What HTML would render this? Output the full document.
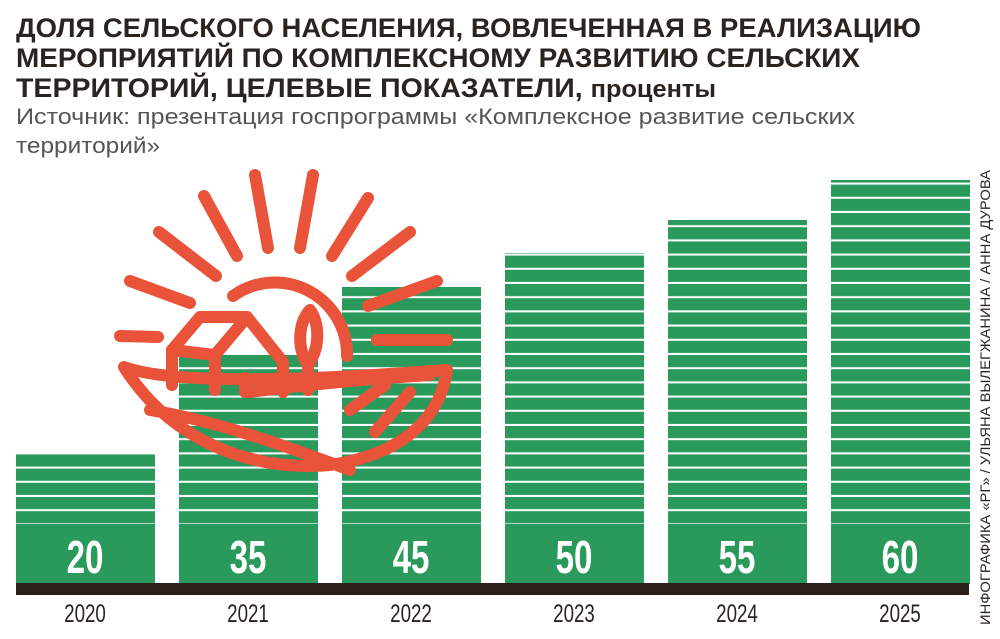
<!DOCTYPE html>
<html><head><meta charset="utf-8"><style>
html,body{margin:0;padding:0;background:#fff;}
svg{display:block;}
</style></head><body>
<svg width="1000" height="639" viewBox="0 0 1000 639" xmlns="http://www.w3.org/2000/svg">
<defs>
<pattern id="st" x="0" y="0" width="10" height="14.2" patternUnits="userSpaceOnUse">
<rect x="0" y="0" width="10" height="12.2" fill="#2a9a5c"/>
<rect x="0" y="12.2" width="10" height="2" fill="#fff"/>
</pattern>
</defs>
<g font-family="'Liberation Sans','Noto Sans CJK SC',sans-serif" fill="#2a2420" font-weight="bold" font-size="27">
<text x="16" y="37" textLength="905" lengthAdjust="spacingAndGlyphs">ДОЛЯ СЕЛЬСКОГО НАСЕЛЕНИЯ, ВОВЛЕЧЕННАЯ В РЕАЛИЗАЦИЮ</text>
<text x="16" y="67" textLength="844" lengthAdjust="spacingAndGlyphs">МЕРОПРИЯТИЙ ПО КОМПЛЕКСНОМУ РАЗВИТИЮ СЕЛЬСКИХ</text>
<text x="16" y="97" textLength="700" lengthAdjust="spacingAndGlyphs">ТЕРРИТОРИЙ, ЦЕЛЕВЫЕ ПОКАЗАТЕЛИ, <tspan font-size="24">проценты</tspan></text>
</g>
<g font-family="'Liberation Sans','Noto Sans CJK SC',sans-serif" fill="#555" font-size="22">
<text x="16" y="124" textLength="839" lengthAdjust="spacingAndGlyphs">Источник: презентация госпрограммы «Комплексное развитие сельских</text>
<text x="16" y="153" textLength="144" lengthAdjust="spacingAndGlyphs">территорий»</text>
</g>
<g>
<rect x="16" y="454" width="139" height="70" fill="url(#st)"/>
<rect x="179" y="353" width="139" height="171" fill="url(#st)"/>
<rect x="342" y="287" width="139" height="237" fill="url(#st)"/>
<rect x="505" y="253" width="139" height="271" fill="url(#st)"/>
<rect x="668" y="220" width="139" height="304" fill="url(#st)"/>
<rect x="831" y="180" width="139" height="344" fill="url(#st)"/>
<rect x="16" y="524" width="139" height="60" fill="#2a9a5c"/>
<rect x="179" y="524" width="139" height="60" fill="#2a9a5c"/>
<rect x="342" y="524" width="139" height="60" fill="#2a9a5c"/>
<rect x="505" y="524" width="139" height="60" fill="#2a9a5c"/>
<rect x="668" y="524" width="139" height="60" fill="#2a9a5c"/>
<rect x="831" y="524" width="139" height="60" fill="#2a9a5c"/>
<rect x="16" y="583" width="953" height="12" fill="#2a1f1a"/>
</g>
<g font-family="'Liberation Sans',sans-serif" font-weight="bold" font-size="46" fill="#fff" text-anchor="middle">
<text transform="translate(85,573) scale(0.72,1)">20</text>
<text transform="translate(248,573) scale(0.72,1)">35</text>
<text transform="translate(411,573) scale(0.72,1)">45</text>
<text transform="translate(574,573) scale(0.72,1)">50</text>
<text transform="translate(737,573) scale(0.72,1)">55</text>
<text transform="translate(900,573) scale(0.72,1)">60</text>
</g>
<g font-family="'Liberation Sans',sans-serif" font-size="25" fill="#2a2420" text-anchor="middle">
<text transform="translate(85,622) scale(0.75,1)">2020</text>
<text transform="translate(248,622) scale(0.75,1)">2021</text>
<text transform="translate(411,622) scale(0.75,1)">2022</text>
<text transform="translate(574,622) scale(0.75,1)">2023</text>
<text transform="translate(737,622) scale(0.75,1)">2024</text>
<text transform="translate(900,622) scale(0.75,1)">2025</text>
</g>
<g fill="none" stroke="#e8533a" stroke-width="12" stroke-linecap="round" stroke-linejoin="round">
<path d="M233 296 A72 72 0 0 1 347 356"/>
<line x1="255" y1="175" x2="268" y2="248"/>
<line x1="313" y1="175" x2="300" y2="248"/>
<line x1="204" y1="196" x2="237" y2="256"/>
<line x1="368" y1="198" x2="332" y2="256"/>
<line x1="159" y1="232" x2="216" y2="276"/>
<line x1="410" y1="232" x2="352" y2="276"/>
<line x1="130" y1="281" x2="190" y2="303"/>
<line x1="437" y1="281" x2="368" y2="306"/>
<line x1="120" y1="336" x2="158" y2="337"/>
<line x1="377" y1="340" x2="447" y2="340"/>
<path d="M124 367 C160 380 250 385 447 370 C440 420 400 455 330 465 C250 472 170 440 124 367 Z"/>
<path d="M150 410 C210 420 270 440 350 470"/>
<path d="M250 392 C300 385 380 378 430 375"/>
<path d="M350 410 L385 385"/>
<path d="M375 432 L410 392"/>
<path d="M172 385 L172 350 L200 317 L247 317 L283 362 L283 392"/>
<path d="M172 350 L215 355 L247 317"/>
<path d="M215 355 L215 390"/>
<line x1="245" y1="378" x2="245" y2="392"/>
<path d="M310 310 C300 320 295 345 308 365 C322 345 318 320 310 310 Z"/>
<line x1="308" y1="365" x2="308" y2="390"/>
</g>
<text transform="translate(990,625) rotate(-90)" font-family="'Liberation Sans','Noto Sans CJK SC',sans-serif" font-size="14" fill="#2a2420" textLength="455" lengthAdjust="spacingAndGlyphs">ИНФОГРАФИКА «РГ» / УЛЬЯНА ВЫЛЕГЖАНИНА / АННА ДУРОВА</text>
</svg>
</body></html>
